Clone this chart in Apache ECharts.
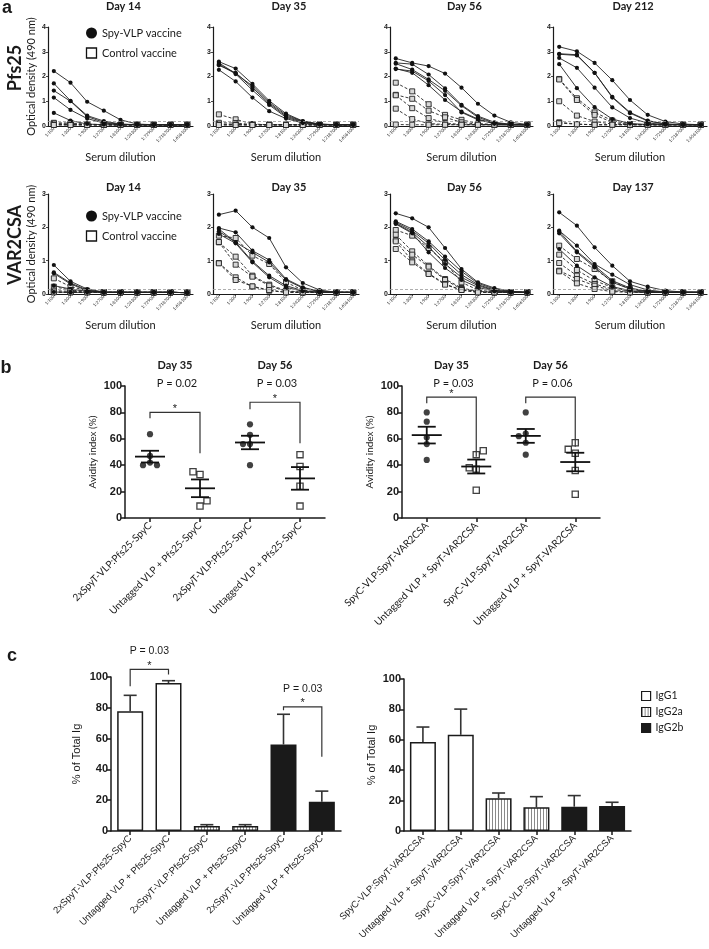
<!DOCTYPE html>
<html><head><meta charset="utf-8">
<script src="https://cdn.jsdelivr.net/npm/echarts@6/dist/echarts.min.js"></script>
<style>html,body{margin:0;padding:0;background:#fff}#wrap{position:relative;width:709px;height:949px}
#ca{position:absolute;left:0;top:0;width:709px;height:345px}#cb{position:absolute;left:0;top:345px;width:709px;height:604px}</style>
</head><body><div id="wrap"><div id="ca"></div><div id="cb"></div></div>
<script>
// ---------------- DATA ----------------
const dilutions = ['1:100','1:300','1:900','1:2700','1:8100','1:24300','1:72900','1:218700','1:656100'];
const pfs25Days = ['Day 14','Day 35','Day 56','Day 212'];
const var2csaDays = ['Day 14','Day 35','Day 56','Day 137'];
const rowLabels = ['Pfs25','VAR2CSA'];
const legendNames = ['Spy-VLP vaccine','Control vaccine'];
const thresholds = [0.21, 0.15];

const pfs25_d14_spy = [
 [2.22,1.75,0.98,0.62,0.25,0.08,0.05,0.05,0.05],
 [1.72,1.02,0.42,0.20,0.08,0.05,0.05,0.05,0.05],
 [1.43,1.00,0.38,0.15,0.07,0.05,0.05,0.05,0.05],
 [1.15,0.65,0.30,0.12,0.06,0.05,0.05,0.05,0.05],
 [0.53,0.22,0.08,0.05,0.05,0.05,0.05,0.05,0.04]];
const pfs25_d14_ctrl = [
 [0.13,0.12,0.07,0.06,0.05,0.05,0.05,0.05,0.05],
 [0.10,0.08,0.06,0.05,0.05,0.05,0.05,0.05,0.05],
 [0.07,0.06,0.05,0.05,0.05,0.05,0.05,0.05,0.05],
 [0.05,0.05,0.05,0.05,0.05,0.05,0.05,0.05,0.05],
 [0.04,0.04,0.04,0.04,0.04,0.04,0.04,0.04,0.04]];
const pfs25_d35_spy = [
 [2.60,2.32,1.70,1.02,0.50,0.20,0.08,0.05,0.05],
 [2.55,2.12,1.62,0.95,0.45,0.19,0.07,0.05,0.05],
 [2.45,2.15,1.55,0.90,0.40,0.17,0.07,0.05,0.05],
 [2.50,2.10,1.45,0.85,0.35,0.15,0.06,0.05,0.05],
 [2.27,1.80,1.15,0.60,0.30,0.12,0.05,0.05,0.05]];
const pfs25_d35_ctrl = [
 [0.47,0.27,0.08,0.05,0.05,0.05,0.05,0.05,0.05],
 [0.13,0.12,0.06,0.05,0.05,0.05,0.05,0.05,0.05],
 [0.08,0.06,0.05,0.05,0.05,0.05,0.05,0.05,0.05],
 [0.05,0.05,0.05,0.05,0.05,0.05,0.05,0.05,0.05],
 [0.04,0.04,0.04,0.04,0.04,0.04,0.04,0.04,0.04]];
const pfs25_d56_spy = [
 [2.73,2.55,2.42,2.12,1.55,0.90,0.42,0.15,0.06],
 [2.55,2.50,2.08,1.52,0.85,0.40,0.15,0.07,0.05],
 [2.52,2.28,1.88,1.42,0.82,0.35,0.12,0.06,0.05],
 [2.30,2.22,1.82,1.25,0.55,0.25,0.10,0.05,0.05],
 [2.32,2.15,1.65,1.05,0.58,0.28,0.10,0.05,0.05]];
const pfs25_d56_ctrl = [
 [1.75,1.40,0.88,0.45,0.25,0.10,0.06,0.05,0.05],
 [1.26,1.10,0.62,0.35,0.15,0.07,0.05,0.05,0.05],
 [1.24,0.72,0.32,0.12,0.06,0.05,0.05,0.05,0.05],
 [0.70,0.28,0.10,0.06,0.05,0.05,0.05,0.05,0.05],
 [0.06,0.05,0.05,0.05,0.05,0.05,0.05,0.05,0.05]];
const pfs25_d212_spy = [
 [3.20,3.02,2.55,1.85,1.05,0.45,0.18,0.08,0.05],
 [2.92,2.88,2.15,1.18,0.55,0.22,0.08,0.05,0.05],
 [2.90,2.85,2.15,1.15,0.52,0.20,0.08,0.05,0.05],
 [2.75,2.35,1.55,0.75,0.32,0.12,0.06,0.05,0.05],
 [2.50,1.53,0.76,0.28,0.10,0.06,0.05,0.05,0.05]];
const pfs25_d212_ctrl = [
 [1.90,1.12,0.55,0.22,0.08,0.05,0.05,0.05,0.05],
 [1.88,1.05,0.45,0.15,0.06,0.05,0.05,0.05,0.05],
 [1.00,0.42,0.18,0.08,0.05,0.05,0.05,0.05,0.05],
 [0.15,0.08,0.05,0.05,0.05,0.05,0.05,0.05,0.05],
 [0.12,0.07,0.05,0.05,0.05,0.05,0.05,0.05,0.05]];

const var2csa_d14_spy = [
 [0.87,0.38,0.15,0.06,0.05,0.05,0.05,0.05,0.04],
 [0.65,0.33,0.12,0.05,0.05,0.05,0.05,0.05,0.04],
 [0.62,0.30,0.10,0.05,0.05,0.05,0.05,0.05,0.04],
 [0.25,0.15,0.08,0.05,0.05,0.05,0.05,0.05,0.04],
 [0.06,0.05,0.05,0.05,0.05,0.05,0.05,0.05,0.04]];
const var2csa_d14_ctrl = [
 [0.47,0.22,0.10,0.05,0.05,0.05,0.05,0.05,0.04],
 [0.22,0.12,0.07,0.05,0.05,0.05,0.05,0.05,0.04],
 [0.10,0.08,0.06,0.05,0.05,0.05,0.05,0.05,0.04],
 [0.06,0.05,0.05,0.05,0.05,0.05,0.05,0.05,0.04],
 [0.05,0.05,0.05,0.05,0.05,0.05,0.05,0.05,0.04]];
const var2csa_d35_spy = [
 [2.38,2.50,2.00,1.68,0.80,0.33,0.12,0.05,0.05],
 [1.98,1.85,1.30,1.02,0.45,0.20,0.08,0.05,0.05],
 [1.95,1.55,1.25,0.95,0.42,0.18,0.07,0.05,0.05],
 [1.88,1.55,0.98,0.55,0.25,0.10,0.05,0.05,0.05],
 [1.80,1.52,0.95,0.50,0.20,0.08,0.05,0.05,0.05]];
const var2csa_d35_ctrl = [
 [1.75,1.68,1.15,0.90,0.35,0.12,0.05,0.05,0.05],
 [1.55,1.12,0.55,0.28,0.10,0.05,0.05,0.05,0.05],
 [1.56,0.88,0.52,0.25,0.08,0.05,0.05,0.05,0.05],
 [0.93,0.50,0.22,0.10,0.05,0.05,0.05,0.05,0.05],
 [0.92,0.42,0.23,0.12,0.05,0.05,0.05,0.05,0.05]];
const var2csa_d56_spy = [
 [2.42,2.27,2.00,1.38,0.75,0.35,0.18,0.08,0.05],
 [2.18,1.95,1.58,1.12,0.68,0.32,0.15,0.07,0.05],
 [2.15,1.90,1.52,1.02,0.58,0.28,0.12,0.06,0.05],
 [2.12,1.85,1.42,0.90,0.50,0.25,0.10,0.05,0.05],
 [2.10,1.82,1.25,0.78,0.42,0.20,0.08,0.05,0.05]];
const var2csa_d56_ctrl = [
 [1.92,1.75,1.38,0.95,0.35,0.12,0.06,0.05,0.05],
 [1.78,1.28,0.85,0.45,0.18,0.08,0.05,0.05,0.05],
 [1.62,1.18,0.82,0.42,0.15,0.07,0.05,0.05,0.05],
 [1.58,1.00,0.62,0.30,0.12,0.05,0.05,0.05,0.05],
 [1.35,0.95,0.60,0.28,0.12,0.05,0.05,0.05,0.05]];
const var2csa_d137_spy = [
 [2.45,2.05,1.40,0.85,0.38,0.22,0.10,0.06,0.05],
 [1.90,1.45,0.90,0.58,0.28,0.12,0.06,0.05,0.05],
 [1.88,1.28,0.85,0.40,0.18,0.08,0.05,0.05,0.05],
 [1.82,1.25,0.80,0.35,0.15,0.07,0.05,0.05,0.05],
 [1.35,0.85,0.50,0.22,0.10,0.05,0.05,0.05,0.05]];
const var2csa_d137_ctrl = [
 [1.45,1.05,0.75,0.38,0.15,0.07,0.05,0.05,0.05],
 [1.18,0.72,0.40,0.20,0.08,0.05,0.05,0.05,0.05],
 [0.93,0.55,0.30,0.15,0.06,0.05,0.05,0.05,0.05],
 [0.70,0.45,0.25,0.10,0.05,0.05,0.05,0.05,0.05],
 [0.68,0.32,0.15,0.07,0.05,0.05,0.05,0.05,0.05]];

// panel b (avidity index, %)
const b_pfs_cats = ['2xSpyT-VLP:Pfs25-SpyC','Untagged VLP + Pfs25-SpyC','2xSpyT-VLP:Pfs25-SpyC','Untagged VLP + Pfs25-SpyC'];
const b_var_cats = ['SpyC-VLP:SpyT-VAR2CSA','Untagged VLP + SpyT-VAR2CSA','SpyC-VLP:SpyT-VAR2CSA','Untagged VLP + SpyT-VAR2CSA'];
const b_days = ['Day 35','Day 56'];
const b_pfs_d35_spy = [63.5, 47, 42, 40, 40];
const b_pfs_d35_ctrl = [33, 35, 9, 13];
const b_pfs_d56_spy = [71, 63, 56, 56, 40];
const b_pfs_d56_ctrl = [48, 39, 24, 9];
const b_var_d35_spy = [80, 73, 56, 61, 44];
const b_var_d35_ctrl = [48, 37, 38, 51, 21];
const b_var_d56_spy = [80, 64, 62, 57, 48];
const b_var_d56_ctrl = [57, 49, 52, 36, 18];
const b_pfs_pvals = ['P = 0.02','P = 0.03'];
const b_var_pvals = ['P = 0.03','P = 0.06'];
// brackets: [fromCat, toCat, top, leftLegEnd, rightLegEnd]
const b_pfs_brackets = [[0,1,80,75.5,49],[2,3,87.7,82.4,56.7]];
const b_pfs_stars = ['*','*'];
const b_var_brackets = [[0,1,91.5,87,46.4],[2,3,91.5,87,53.9]];
const b_var_stars = ['*',''];

// panel c (% of total Ig)
const c_pfs_cats = ['2xSpyT-VLP:Pfs25-SpyC','Untagged VLP + Pfs25-SpyC','2xSpyT-VLP:Pfs25-SpyC','Untagged VLP + Pfs25-SpyC','2xSpyT-VLP:Pfs25-SpyC','Untagged VLP + Pfs25-SpyC'];
const c_var_cats = ['SpyC-VLP:SpyT-VAR2CSA','Untagged VLP + SpyT-VAR2CSA','SpyC-VLP:SpyT-VAR2CSA','Untagged VLP + SpyT-VAR2CSA','SpyC-VLP:SpyT-VAR2CSA','Untagged VLP + SpyT-VAR2CSA'];
const isotypes = ['IgG1','IgG2a','IgG2b'];
const c_pfs_igg1 = [77.8, 96.1];
const c_pfs_igg2a = [3.2, 3.2];
const c_pfs_igg2b = [56.2, 19.0];
const c_pfs_errTop = [88.1, 97.6, 4.1, 4.1, 75.8, 25.9];
const c_var_igg1 = [58.5, 63.3];
const c_var_igg2a = [21.5, 15.6];
const c_var_igg2b = [16.0, 16.5];
const c_var_errTop = [68.4, 80.2, 25.0, 22.6, 23.3, 18.9];
const c_pfs_brackets = [[0,1,105,94,101.7],[4,5,80.6,78.4,48.2]];
const c_pfs_stars = ['*','*'];
const c_pfs_pvals = ['P = 0.03','P = 0.03'];

// ---------------- BUILD ----------------
const LATO = 'Lato', ARIAL = 'Liberation Sans', INK = '#1a1a1a';
function txt(arr, x, y, text, o) {
  o = o || {};
  arr.push({type:'text', x, y, rotation: o.rot || 0, silent:true,
    style:{text, fontFamily:o.ff || LATO, fontSize:o.fs || 11, fontWeight:o.fw || 'normal',
      fill: INK, align:o.align || 'center', verticalAlign:o.va || 'middle'}});
}

// ===== panel a =====
const A = {grids:[], x:[], y:[], s:[], g:[]};
const aRows = [
  {days:pfs25Days, spy:[pfs25_d14_spy,pfs25_d35_spy,pfs25_d56_spy,pfs25_d212_spy],
   ctrl:[pfs25_d14_ctrl,pfs25_d35_ctrl,pfs25_d56_ctrl,pfs25_d212_ctrl], top:27, height:99, max:4, titleY:6, legendY:33, labelY:68},
  {days:var2csaDays, spy:[var2csa_d14_spy,var2csa_d35_spy,var2csa_d56_spy,var2csa_d137_spy],
   ctrl:[var2csa_d14_ctrl,var2csa_d35_ctrl,var2csa_d56_ctrl,var2csa_d137_ctrl], top:194, height:100, max:3, titleY:187, legendY:216, labelY:245}
];
const aLefts = [48, 213, 390, 553], aWidths = [145, 146, 143, 154];
const catIdx = dilutions.map((d, i) => i);

aRows.forEach((row, r) => {
  txt(A.g, 15, row.labelY, rowLabels[r], {fs:18, fw:'bold', rot:Math.PI/2});
  A.g.push({type:'circle', silent:true, z:10, shape:{cx:91.5, cy:row.legendY, r:5.5}, style:{fill:'#111'}});
  A.g.push({type:'rect', silent:true, z:10, shape:{x:86.5, y:row.legendY + 15, width:10, height:10}, style:{fill:'#fff', stroke:'#111', lineWidth:1.3}});
  txt(A.g, 102, row.legendY, legendNames[0], {fs:11, align:'left'});
  txt(A.g, 102, row.legendY + 20, legendNames[1], {fs:11, align:'left'});
  row.days.forEach((day, c) => {
    const gi = A.grids.length;
    A.grids.push({left:aLefts[c], top:row.top, width:aWidths[c], height:row.height});
    txt(A.g, aLefts[c] + aWidths[c] * 0.52, row.titleY, day, {fs:11, fw:'bold'});
    A.x.push({type:'value', gridIndex:gi, min:-0.35, max:8.35,
      axisLine:{show:true, onZero:false, lineStyle:{color:INK, width:1.2}},
      axisTick:{show:true, customValues:catIdx, length:2, lineStyle:{color:INK, width:0.8}},
      axisLabel:{customValues:catIdx, formatter:v => dilutions[Math.round(v)] || '', rotate:45, fontSize:4.5, margin:2, color:'#333', fontFamily:LATO},
      splitLine:{show:false},
      name:'Serum dilution', nameLocation:'middle', nameGap:26,
      nameTextStyle:{fontFamily:LATO, fontSize:11, color:INK}});
    A.y.push({type:'value', gridIndex:gi, min:0, max:row.max, interval:1,
      axisLine:{show:true, onZero:false, lineStyle:{color:INK, width:1.2}},
      axisTick:{show:true, length:2, lineStyle:{color:INK, width:0.8}},
      axisLabel:{fontSize:7, fontWeight:'bold', margin:2, color:INK, fontFamily:ARIAL},
      splitLine:{show:false},
      name: c === 0 ? 'Optical density (490 nm)' : '', nameLocation:'middle', nameGap:11,
      nameTextStyle:{fontFamily:LATO, fontSize:11, color:INK}});
    const addLines = (sets, isCtrl) => sets.forEach((vals, k) => {
      const s = {type:'line', xAxisIndex:gi, yAxisIndex:gi,
        data: vals.map((v, i) => [i, v]),
        symbol: isCtrl ? 'rect' : 'circle', symbolSize: isCtrl ? 5 : 4.2,
        lineStyle:{color:'#222', width:0.9, type: isCtrl ? [3, 2] : 'solid'},
        itemStyle:{color: isCtrl ? '#d8d8d8' : '#111', borderColor:'#222', borderWidth: isCtrl ? 0.9 : 0},
        z: isCtrl ? 2 : 3};
      if (!isCtrl && k === 0) {
        s.markLine = {symbol:'none', label:{show:false}, silent:true,
          lineStyle:{color:'#999', type:[3, 2], width:0.8}, data:[{yAxis:thresholds[r]}]};
      }
      A.s.push(s);
    });
    addLines(row.ctrl[c], true);
    addLines(row.spy[c], false);
  });
});
txt(A.g, 7, 8, 'a', {fs:18, fw:'bold', ff:ARIAL});

// ===== panels b and c (second instance, offset OY) =====
const OY = 345;
const B = {grids:[], x:[], y:[], s:[], g:[]};
function meanSem(vals) {
  const n = vals.length, m = vals.reduce((a, b) => a + b, 0) / n;
  const sd = Math.sqrt(vals.reduce((a, b) => a + (b - m) * (b - m), 0) / (n - 1));
  const se = sd / Math.sqrt(n);
  return [m, m - se, m + se];
}
function swarm(vals, step) {
  const placed = []; let alt = -1;
  return vals.map(v => {
    const clash = o => placed.some(p => p.o === o && Math.abs(p.v - v) < 5);
    let o = 0;
    if (clash(0)) { o = !clash(alt) ? alt : -alt; alt = -alt; }
    placed.push({v, o});
    return o * step;
  });
}
function bracketSeries(gi, list, stars, pvals) {
  return {type:'custom', xAxisIndex:gi, yAxisIndex:gi, silent:true, z:5, clip:false,
    data:list,
    renderItem:(params, api) => {
      const a = api.coord([api.value(0), api.value(2)]);
      const b = api.coord([api.value(1), api.value(2)]);
      const la = api.coord([api.value(0), api.value(3)]);
      const rb = api.coord([api.value(1), api.value(4)]);
      const ch = [{type:'polyline', shape:{points:[[a[0], la[1]], a, b, [b[0], rb[1]]]},
        style:{stroke:'#333', lineWidth:1.2, fill:null}}];
      const mid = (a[0] + b[0]) / 2;
      const st = stars[params.dataIndex];
      if (st) ch.push({type:'text', x:mid, y:a[1] + 2, style:{text:st, fill:INK, fontSize:11, fontFamily:ARIAL, align:'center', verticalAlign:'bottom'}});
      if (pvals) ch.push({type:'text', x:mid, y:a[1] - 18, style:{text:pvals[params.dataIndex], fill:INK, fontSize:10.5, fontFamily:ARIAL, align:'center', verticalAlign:'middle'}});
      return {type:'group', children:ch};
    }};
}
function catX(gi, cats, fontFam, fs) {
  return {type:'category', gridIndex:gi, data:cats,
    axisLine:{show:true, lineStyle:{color:INK, width:1.5}},
    axisTick:{show:true, alignWithLabel:true, length:4, lineStyle:{color:INK, width:1.5}},
    axisLabel:{interval:0, rotate:45, fontFamily:fontFam, fontSize:fs, margin:6, color:INK},
    splitLine:{show:false}};
}
function pctY(gi, name, gap, fontFam, fs) {
  return {type:'value', gridIndex:gi, min:0, max:100, interval:20,
    axisLine:{show:true, lineStyle:{color:INK, width:1.5}},
    axisTick:{show:true, length:4, lineStyle:{color:INK, width:1.5}},
    axisLabel:{fontFamily:ARIAL, fontWeight:'bold', fontSize:11, margin:3, color:INK},
    splitLine:{show:false},
    name, nameLocation:'middle', nameGap:gap, nameTextStyle:{fontFamily:fontFam, fontSize:fs, color:INK}};
}

const bPanels = [
  {cats:b_pfs_cats, groups:[b_pfs_d35_spy,b_pfs_d35_ctrl,b_pfs_d56_spy,b_pfs_d56_ctrl], brackets:b_pfs_brackets, stars:b_pfs_stars, pvals:b_pfs_pvals,
   grid:{left:125, top:386 - OY, width:200, height:132}},
  {cats:b_var_cats, groups:[b_var_d35_spy,b_var_d35_ctrl,b_var_d56_spy,b_var_d56_ctrl], brackets:b_var_brackets, stars:b_var_stars, pvals:b_var_pvals,
   grid:{left:402, top:386 - OY, width:198, height:132}}
];
bPanels.forEach(p => {
  const gi = B.grids.length;
  B.grids.push(p.grid);
  B.x.push(catX(gi, p.cats, LATO, 10));
  B.y.push(pctY(gi, 'Avidity index (%)', 27, LATO, 10));
  const band = p.grid.width / p.cats.length;
  b_days.forEach((d, k) => {
    const cx = p.grid.left + band * (2 * k + 1);
    txt(B.g, cx, 365 - OY, d, {fs:11, fw:'bold'});
    txt(B.g, cx + 2, 383 - OY, p.pvals[k], {fs:11});
  });
  p.groups.forEach((vals, g) => {
    const ctrl = g % 2 === 1;
    const offs = swarm(vals, 7);
    B.s.push({type:'scatter', xAxisIndex:gi, yAxisIndex:gi, silent:true, z:4,
      symbol: ctrl ? 'rect' : 'circle', symbolSize:6.2,
      itemStyle: ctrl ? {color:'#fff', borderColor:'#111', borderWidth:1.3} : {color:'#111'},
      data: vals.map((v, i) => ({value:[g, v], symbolOffset:[offs[i], 0]}))});
  });
  B.s.push({type:'custom', xAxisIndex:gi, yAxisIndex:gi, silent:true, z:6,
    data: p.groups.map((vals, g) => [g].concat(meanSem(vals))),
    renderItem:(params, api) => {
      const m = api.coord([api.value(0), api.value(1)]);
      const lo = api.coord([api.value(0), api.value(2)]);
      const hi = api.coord([api.value(0), api.value(3)]);
      const st = {stroke:'#111', lineWidth:1.8};
      return {type:'group', children:[
        {type:'line', shape:{x1:m[0]-15, y1:m[1], x2:m[0]+15, y2:m[1]}, style:st},
        {type:'line', shape:{x1:m[0], y1:lo[1], x2:m[0], y2:hi[1]}, style:st},
        {type:'line', shape:{x1:m[0]-9, y1:lo[1], x2:m[0]+9, y2:lo[1]}, style:st},
        {type:'line', shape:{x1:m[0]-9, y1:hi[1], x2:m[0]+9, y2:hi[1]}, style:st}]};
    }});
  B.s.push(bracketSeries(gi, p.brackets, p.stars, null));
});

const stripe = document.createElement('canvas');
stripe.width = 3; stripe.height = 6;
(function () { const g = stripe.getContext('2d'); g.fillStyle = '#fff'; g.fillRect(0, 0, 3, 6); g.fillStyle = '#8a8a8a'; g.fillRect(0, 0, 1, 6); })();
const isoStyles = [
  {color:'#fff', borderColor:'#1a1a1a', borderWidth:1.5},
  {color:{image:stripe, repeat:'repeat'}, borderColor:'#1a1a1a', borderWidth:1.5},
  {color:'#1a1a1a', borderColor:'#1a1a1a', borderWidth:1.5}];
const cPanels = [
  {cats:c_pfs_cats, vals:[c_pfs_igg1,c_pfs_igg2a,c_pfs_igg2b], err:c_pfs_errTop, grid:{left:111, top:677 - OY, width:230, height:154}, gap:28.5, brackets:c_pfs_brackets},
  {cats:c_var_cats, vals:[c_var_igg1,c_var_igg2a,c_var_igg2b], err:c_var_errTop, grid:{left:404, top:679 - OY, width:227, height:152}, gap:26.5, brackets:null}
];
cPanels.forEach(p => {
  const gi = B.grids.length;
  B.grids.push(p.grid);
  B.x.push(catX(gi, p.cats, ARIAL, 9.5));
  B.y.push(pctY(gi, '% of Total Ig', p.gap, ARIAL, 11));
  p.vals.forEach((arr, k) => {
    B.s.push({type:'bar', name:isotypes[k], xAxisIndex:gi, yAxisIndex:gi, silent:true,
      barWidth:26, barGap:'-100%', itemStyle:isoStyles[k], z:3,
      data: p.cats.map((c, i) => Math.floor(i / 2) === k ? arr[i % 2] : '-')});
  });
  B.s.push({type:'custom', xAxisIndex:gi, yAxisIndex:gi, silent:true, z:2,
    data: p.err.map((e, i) => [i, p.vals[Math.floor(i / 2)][i % 2], e]),
    renderItem:(params, api) => {
      const b = api.coord([api.value(0), api.value(1)]);
      const t = api.coord([api.value(0), api.value(2)]);
      const st = {stroke:'#333', lineWidth:1.6};
      return {type:'group', children:[
        {type:'line', shape:{x1:b[0], y1:b[1], x2:t[0], y2:t[1]}, style:st},
        {type:'line', shape:{x1:t[0]-6.5, y1:t[1], x2:t[0]+6.5, y2:t[1]}, style:st}]};
    }});
  if (p.brackets) B.s.push(bracketSeries(gi, p.brackets, c_pfs_stars, c_pfs_pvals));
});
txt(B.g, 6, 368 - OY, 'b', {fs:18, fw:'bold', ff:ARIAL});
txt(B.g, 12, 656 - OY, 'c', {fs:18, fw:'bold', ff:ARIAL});

const chartA = echarts.init(document.getElementById('ca'));
chartA.setOption({animation:false, grid:A.grids, xAxis:A.x, yAxis:A.y, series:A.s, graphic:A.g});
const chartB = echarts.init(document.getElementById('cb'));
chartB.setOption({animation:false, grid:B.grids, xAxis:B.x, yAxis:B.y, series:B.s, graphic:B.g,
  legend:{left:636, top:685.5 - OY, orient:'vertical', itemWidth:9, itemHeight:9, itemGap:5, selectedMode:false,
    textStyle:{fontFamily:LATO, fontSize:10.5, color:INK},
    data: isotypes.map(n => ({name:n, icon:'rect', itemStyle:{borderColor:'#1a1a1a', borderWidth:1.2}}))}});
</script></body></html>
